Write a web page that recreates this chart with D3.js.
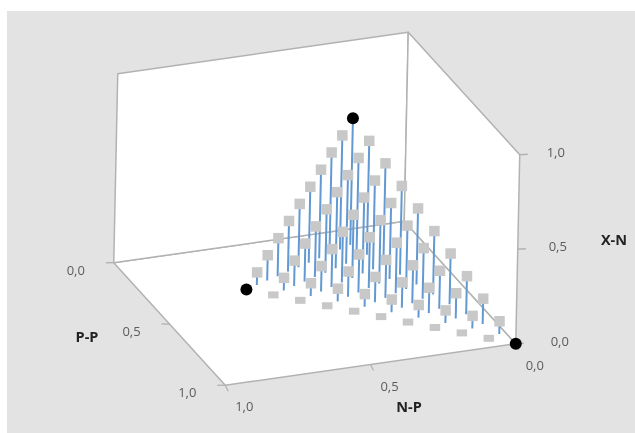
<!DOCTYPE html>
<html>
<head>
<meta charset="utf-8">
<script src="https://cdn.jsdelivr.net/npm/d3@7"></script>
<style>
  html, body { margin: 0; padding: 0; background: #fff; }
  svg { display: block; filter: blur(0.35px); }
  text { font-family: "Open Sans", sans-serif; }
</style>
</head>
<body>
<div id="vis-container"></div>
<script>
const width = 635;
const height = 433;

// design points, one row per X-N level
const nP = [
  0, .067, .134, .201, .268, .335, .402, .469, .536, .603, .67,
  .023, .09, .157, .224, .291, .358, .425, .492, .559, .626,
  .046, .113, .18, .247, .314, .381, .448, .515, .582,
  .069, .136, .203, .27, .337, .404, .471, .538,
  .092, .159, .226, .293, .36, .427, .494,
  .115, .182, .249, .316, .383, .45,
  .138, .205, .272, .339, .406,
  .161, .228, .295, .362,
  .184, .251, .318,
  .207, .274,
  .23
];
const pP = [
  1, .933, .866, .799, .732, .665, .598, .531, .464, .397, .33,
  .912, .845, .778, .711, .644, .577, .51, .443, .376, .309,
  .823, .756, .689, .622, .555, .488, .421, .354, .287,
  .735, .668, .601, .534, .467, .4, .333, .266,
  .646, .579, .512, .445, .378, .311, .244,
  .558, .491, .424, .357, .29, .223,
  .469, .402, .335, .268, .201,
  .381, .314, .247, .18,
  .292, .225, .158,
  .204, .137,
  .115
];
const xN = [
  0, 0, 0, 0, 0, 0, 0, 0, 0, 0, 0,
  .067, .067, .067, .067, .067, .067, .067, .067, .067, .067,
  .134, .134, .134, .134, .134, .134, .134, .134, .134,
  .201, .201, .201, .201, .201, .201, .201, .201,
  .268, .268, .268, .268, .268, .268, .268,
  .335, .335, .335, .335, .335, .335,
  .402, .402, .402, .402, .402,
  .469, .469, .469, .469,
  .536, .536, .536,
  .603, .603,
  .67
];
// the three corner points, drawn in black
const cornerIdx = [0, 10, 65];

const tickValues = [0, 0.5, 1];
const tickLabels = ["0,0", "0,5", "1,0"];

// each axis moves the point along its own screen direction (range holds [dx, dy])
const scaleN = d3.scaleLinear().domain([0, 1]).range([[0, 0], [-290.5, 41.5]]);
const scaleP = d3.scaleLinear().domain([0, 1]).range([[0, 0], [111.5, 122.5]]);
const scaleX = d3.scaleLinear().domain([0, 1]).range([[0, 0], [4, -189]]);
const origin = [404.25, 221.25];

function project(n, p, x) {
  const a = scaleN(n), b = scaleP(p), c = scaleX(x);
  return [origin[0] + a[0] + b[0] + c[0], origin[1] + a[1] + b[1] + c[1]];
}

const svg = d3.select("#vis-container")
  .append("svg")
  .attr("width", width)
  .attr("height", height)
  .attr("viewBox", [0, 0, width, height]);

svg.append("rect")
  .attr("x", 7).attr("y", 11)
  .attr("width", width - 7).attr("height", height - 11)
  .attr("fill", "#e3e3e3");

const line = d3.line();
const grey = "#b2b2b2";

// floor and the two back walls
const panels = [
  [[1, 0, 0], [1, 1, 0], [0, 1, 0], [0, 0, 0]],
  [[1, 0, 0], [1, 0, 1], [0, 0, 1], [0, 0, 0]],
  [[0, 0, 0], [0, 0, 1], [0, 1, 1], [0, 1, 0]]
];
svg.append("g").selectAll("path")
  .data(panels)
  .join("path")
  .attr("d", (d) => line(d.map((c) => project(...c))) + "Z")
  .attr("fill", "#fff")
  .attr("stroke", grey)
  .attr("stroke-width", 1.5)
  .attr("stroke-linejoin", "round");

// ticks
const ticks = svg.append("g").attr("stroke", grey).attr("stroke-width", 1.3);
tickValues.forEach((v) => {
  let q = project(1, v, 0);
  ticks.append("line").attr("x1", q[0]).attr("y1", q[1]).attr("x2", q[0] - 8).attr("y2", q[1]);
  q = project(v, 1, 0);
  ticks.append("line").attr("x1", q[0]).attr("y1", q[1]).attr("x2", q[0] + 3).attr("y2", q[1] + 6);
  q = project(0, 1, v);
  ticks.append("line").attr("x1", q[0]).attr("y1", q[1]).attr("x2", q[0] + 8).attr("y2", q[1] - 0.5);
});

// tick labels
const labels = svg.append("g").attr("fill", "#5c5c5c").attr("font-size", 13).attr("text-anchor", "middle");
tickValues.forEach((v, i) => {
  let q = project(1, v, 0);
  labels.append("text").attr("x", q[0] - 38).attr("y", q[1] + 12).text(tickLabels[i]);
  q = project(v, 1, 0);
  labels.append("text").attr("x", q[0] + 19).attr("y", q[1] + 26).text(tickLabels[i]);
  q = project(0, 1, v);
  labels.append("text").attr("x", q[0] + 44 - 8 * v).attr("y", q[1] + 2).text(tickLabels[i]);
});

// axis titles
const titles = svg.append("g").attr("fill", "#222").attr("font-size", 14.5).attr("font-weight", 700).attr("text-anchor", "middle");
titles.append("text").attr("x", 87).attr("y", 342).text("P-P");
titles.append("text").attr("x", 409).attr("y", 412).text("N-P");
titles.append("text").attr("x", 614).attr("y", 245).text("X-N");

const points = nP.map((n, i) => ({ n, p: pP[i], x: xN[i], corner: cornerIdx.includes(i) }));

// stems from the floor up to each point
svg.append("g").selectAll("line")
  .data(points.filter((d) => d.x > 0))
  .join("line")
  .attr("x1", (d) => project(d.n, d.p, 0)[0])
  .attr("y1", (d) => project(d.n, d.p, 0)[1])
  .attr("x2", (d) => project(d.n, d.p, d.x)[0])
  .attr("y2", (d) => project(d.n, d.p, d.x)[1])
  .attr("stroke", "#6299d2")
  .attr("stroke-width", 2);

// grey squares, flatter on the floor
svg.append("g").selectAll("rect")
  .data(points.filter((d) => !d.corner))
  .join("rect")
  .attr("x", (d) => project(d.n, d.p, d.x)[0] - 5.25)
  .attr("y", (d) => project(d.n, d.p, d.x)[1] - (d.x > 0 ? 5.25 : 3.5))
  .attr("width", 10.5)
  .attr("height", (d) => (d.x > 0 ? 10.5 : 7))
  .attr("fill", "#c8c8c8");

svg.append("g").selectAll("circle")
  .data(points.filter((d) => d.corner))
  .join("circle")
  .attr("cx", (d) => project(d.n, d.p, d.x)[0])
  .attr("cy", (d) => project(d.n, d.p, d.x)[1])
  .attr("r", 6)
  .attr("fill", "#000");
</script>
</body>
</html>
